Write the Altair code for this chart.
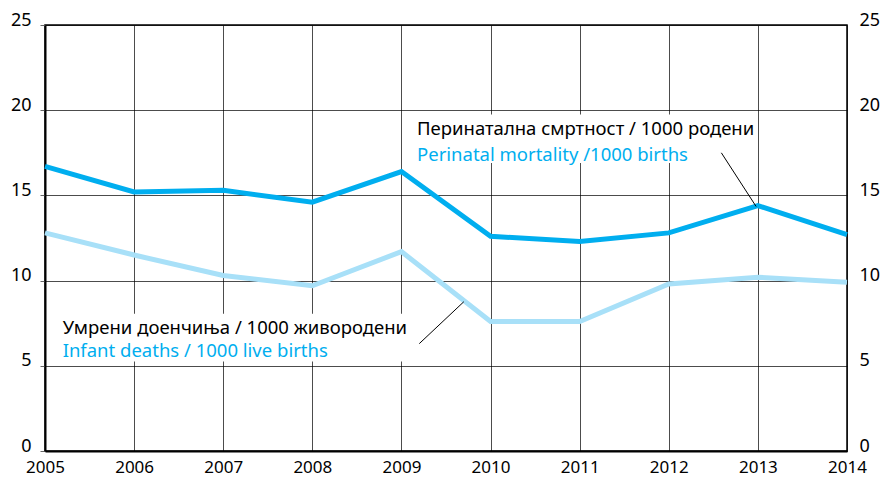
import altair as alt
import pandas as pd

years = [2005, 2006, 2007, 2008, 2009, 2010, 2011, 2012, 2013, 2014]
perinatal = [16.7, 15.2, 15.3, 14.6, 16.4, 12.6, 12.3, 12.8, 14.4, 12.7]
infant = [12.8, 11.5, 10.3, 9.7, 11.7, 7.6, 7.6, 9.8, 10.2, 9.9]
y_ticks = [0, 5, 10, 15, 20, 25]

label_mk = "Перинатална смртност / 1000 родени"
label_en = "Perinatal mortality /1000 births"
label2_mk = "Умрени доенчиња / 1000 живородени"
label2_en = "Infant deaths / 1000 live births"

FONT = "Noto Sans"
DARK = "#00AEEF"
LIGHT = "#A8E0F8"

df = pd.DataFrame({"year": years, "perinatal": perinatal, "infant": infant})

xs = alt.Scale(domain=[2005, 2014], nice=False, zero=False)
ys = alt.Scale(domain=[0, 25], nice=False)

xax = alt.Axis(values=years, format="d", grid=True, ticks=False, domain=True,
               labelFontSize=17, labelPadding=8, title=None, labelFlush=False,
               gridColor="#000", gridOpacity=0.7, gridWidth=1,
               domainColor="#000", domainWidth=2, labelColor="#000", labelFont=FONT)

base = alt.Chart(df)

# white label backgrounds (data coords)
boxes = pd.DataFrame({
    "x": [2009.07, 2005.11],
    "x2": [2012.95, 2009.15],
    "y": [16.9, 5.25],
    "y2": [19.75, 8.05],
})
box_layer = alt.Chart(boxes).mark_rect(color="white").encode(
    x=alt.X("x:Q", scale=xs, axis=xax),
    x2="x2:Q",
    y=alt.Y("y:Q", scale=ys, axis=alt.Axis(values=y_ticks, orient="left", grid=True,
                                            gridColor="#000", gridOpacity=0.7, gridWidth=1,
                                            domainColor="#000", domainWidth=2,
                                            tickSize=5, tickColor="#666", labelPadding=9,
                                            labelOffset=-5,
                                            labelFontSize=18, labelColor="#000",
                                            labelFont=FONT, title=None)),
    y2="y2:Q",
)

line_dark = base.mark_line(color=DARK, strokeWidth=5, strokeJoin="miter").encode(
    x=alt.X("year:Q", scale=xs, axis=xax),
    y=alt.Y("perinatal:Q", scale=ys, axis=None),
)
line_light = base.mark_line(color=LIGHT, strokeWidth=5, strokeJoin="miter").encode(
    x=alt.X("year:Q", scale=xs, axis=xax),
    y=alt.Y("infant:Q", scale=ys, axis=alt.Axis(values=y_ticks, orient="right", grid=False,
                                                 domain=False, ticks=False, labelPadding=12,
                                                 labelOffset=-5,
                                                 labelFontSize=18, labelColor="#000",
                                                 labelFont=FONT, title=None)),
)

leaders = pd.DataFrame({
    "x": [2012.59, 2009.20],
    "y": [17.5, 6.3],
    "x2": [2012.98, 2009.70],
    "y2": [14.35, 8.76],
})
leader_layer = alt.Chart(leaders).mark_rule(color="#000", strokeWidth=1).encode(
    x=alt.X("x:Q", scale=xs, axis=xax),
    y=alt.Y("y:Q", scale=ys, axis=None),
    x2="x2:Q",
    y2="y2:Q",
)

texts = pd.DataFrame({
    "x": [2009.175, 2009.175, 2005.198, 2005.198],
    "y": [18.55, 17.0, 6.88, 5.5],
    "t": [label_mk, label_en, label2_mk, label2_en],
    "c": ["#000", DARK, "#000", DARK],
})
text_layer = alt.Chart(texts).mark_text(align="left", baseline="alphabetic",
                                        fontSize=18.5, font=FONT).encode(
    x=alt.X("x:Q", scale=xs, axis=xax),
    y=alt.Y("y:Q", scale=ys, axis=None),
    text="t:N",
    color=alt.Color("c:N", scale=None),
)

chart = alt.layer(box_layer, line_dark, line_light, leader_layer, text_layer).resolve_scale(
    y="independent"
).properties(
    width=802, height=426,
    autosize=alt.AutoSizeParams(type="none"),
    padding={"left": 37, "top": 17, "right": 34, "bottom": 27},
).configure_view(stroke="#000", strokeWidth=1.5)

chart.save("out.html", embed_options={"renderer": "svg", "actions": False})
